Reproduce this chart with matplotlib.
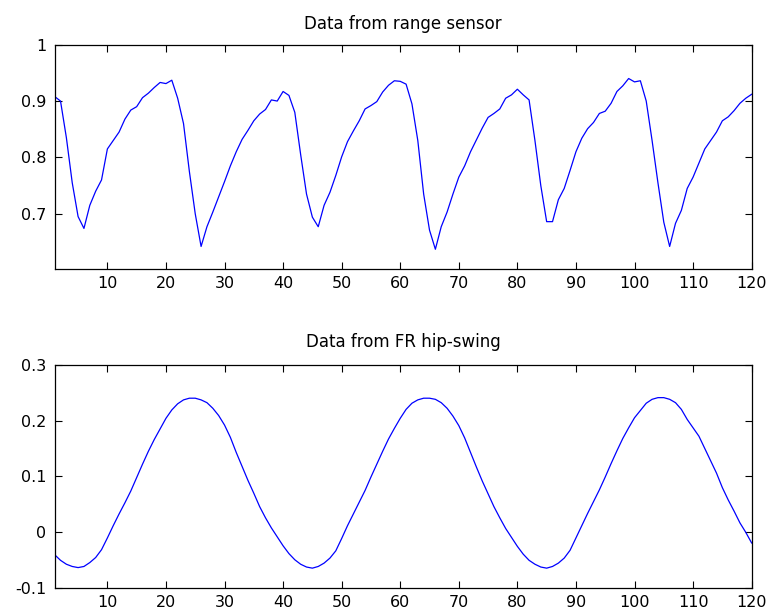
import matplotlib
matplotlib.use("Agg")
import matplotlib.pyplot as plt

# ---- data ----
samples = list(range(1, 121))

range_sensor = [
    0.908, 0.900, 0.835, 0.755, 0.695, 0.674, 0.715, 0.740, 0.760, 0.815,
    0.830, 0.845, 0.868, 0.884, 0.890, 0.906, 0.914, 0.924, 0.933, 0.931,
    0.937, 0.905, 0.860, 0.775, 0.700, 0.642, 0.677, 0.703, 0.730, 0.757,
    0.785, 0.810, 0.832, 0.848, 0.865, 0.877, 0.885, 0.902, 0.900, 0.917,
    0.910, 0.880, 0.805, 0.735, 0.694, 0.677, 0.715, 0.738, 0.768, 0.801,
    0.828, 0.847, 0.865, 0.886, 0.892, 0.899, 0.916, 0.928, 0.936, 0.935,
    0.930, 0.895, 0.830, 0.735, 0.671, 0.637, 0.677, 0.703, 0.735, 0.765,
    0.785, 0.810, 0.831, 0.852, 0.871, 0.878, 0.886, 0.905, 0.911, 0.921,
    0.911, 0.902, 0.830, 0.750, 0.686, 0.686, 0.725, 0.745, 0.777, 0.810,
    0.834, 0.851, 0.862, 0.878, 0.882, 0.896, 0.917, 0.927, 0.940, 0.934,
    0.936, 0.900, 0.830, 0.755, 0.685, 0.642, 0.683, 0.706, 0.745, 0.765,
    0.790, 0.815, 0.830, 0.845, 0.865, 0.872, 0.883, 0.896, 0.905, 0.912,
]

hip_swing = [
    -0.040, -0.050, -0.057, -0.061, -0.063, -0.061, -0.054, -0.045, -0.031, -0.010,
    0.012, 0.033, 0.053, 0.074, 0.098, 0.122, 0.145, 0.166, 0.185, 0.204,
    0.219, 0.230, 0.237, 0.240, 0.240, 0.237, 0.232, 0.222, 0.209, 0.192,
    0.170, 0.143, 0.118, 0.093, 0.070, 0.046, 0.026, 0.008, -0.008, -0.024,
    -0.038, -0.049, -0.057, -0.062, -0.064, -0.061, -0.055, -0.046, -0.033, -0.011,
    0.012, 0.033, 0.054, 0.075, 0.099, 0.122, 0.145, 0.167, 0.186, 0.204,
    0.220, 0.231, 0.237, 0.240, 0.240, 0.238, 0.232, 0.222, 0.208, 0.191,
    0.169, 0.143, 0.117, 0.092, 0.069, 0.046, 0.026, 0.007, -0.009, -0.025,
    -0.039, -0.050, -0.057, -0.062, -0.064, -0.061, -0.055, -0.046, -0.032, -0.010,
    0.012, 0.034, 0.055, 0.076, 0.099, 0.123, 0.146, 0.168, 0.187, 0.205,
    0.218, 0.231, 0.238, 0.241, 0.241, 0.238, 0.232, 0.220, 0.202, 0.187,
    0.172, 0.150, 0.128, 0.106, 0.080, 0.058, 0.038, 0.017, 0.000, -0.019,
]

titles = ["Data from range sensor", "Data from FR hip-swing"]
xticks = [10, 20, 30, 40, 50, 60, 70, 80, 90, 100, 110, 120]
yticks_top = [0.7, 0.8, 0.9, 1.0]
yticklabels_top = ["0.7", "0.8", "0.9", "1"]
yticks_bottom = [-0.1, 0.0, 0.1, 0.2, 0.3]
yticklabels_bottom = ["-0.1", "0", "0.1", "0.2", "0.3"]

plt.rcParams["font.family"] = ["DejaVu Sans"]
plt.rcParams["axes.unicode_minus"] = False

fig = plt.figure(figsize=(7.71, 6.14), dpi=100)
fig.patch.set_facecolor("white")

ax1 = fig.add_axes([0.0709, 0.5619, 0.904, 0.3653])
ax2 = fig.add_axes([0.0709, 0.0419, 0.904, 0.3642])

specs = [
    (ax1, range_sensor, (0.602, 1.0), yticks_top, yticklabels_top, titles[0], 11.5),
    (ax2, hip_swing, (-0.1, 0.3), yticks_bottom, yticklabels_bottom, titles[1], 12.5),
]

for ax, ys, ylim, yt, ytl, title, tpad in specs:
    ax.plot(samples, ys, color=(0, 0, 1), linewidth=0.9)
    ax.set_xlim(1, 120)
    ax.set_ylim(*ylim)
    ax.set_xticks(xticks)
    ax.set_xticklabels([str(t) for t in xticks])
    ax.set_yticks(yt)
    ax.set_yticklabels(ytl)
    ax.tick_params(direction="in", length=5, width=0.8, top=True, right=True,
                   labelsize=11.5, colors="black", pad=6)
    ax.tick_params(axis="x", pad=5)
    for s in ax.spines.values():
        s.set_linewidth(0.9)
        s.set_color("black")
    ax.set_title(title, fontsize=12, pad=tpad)

fig.savefig("out.png", dpi=100, facecolor="white")
